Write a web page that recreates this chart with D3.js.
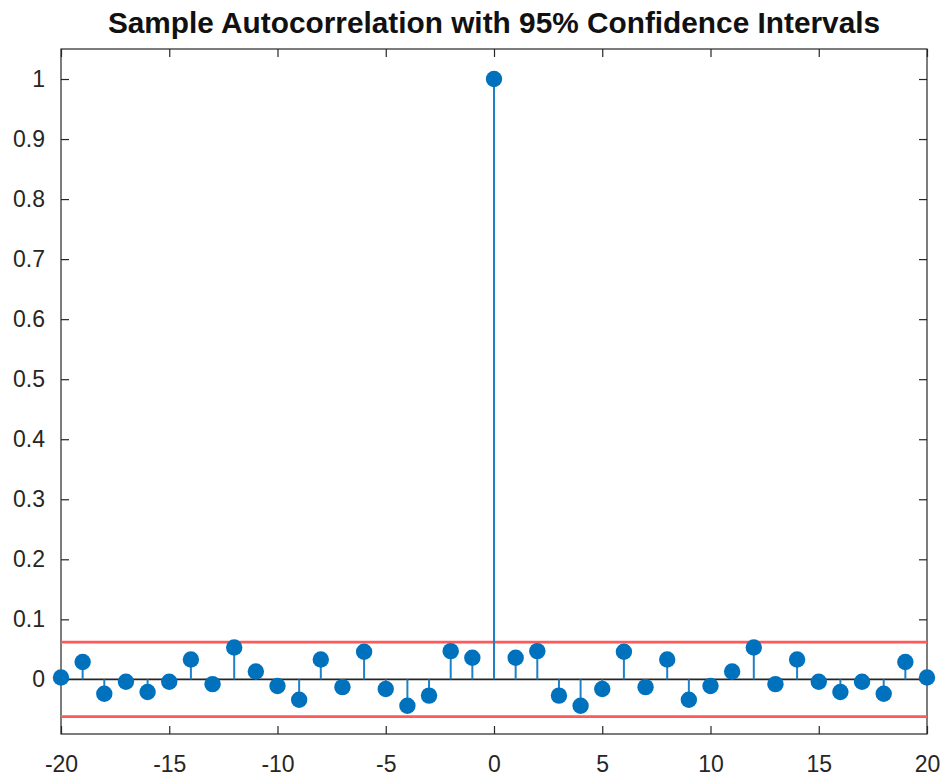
<!DOCTYPE html>
<html>
<head>
<meta charset="utf-8">
<script src="https://cdn.jsdelivr.net/npm/d3@7"></script>
<style>
  html, body { margin: 0; padding: 0; background: #fff; }
  svg { display: block; }
</style>
</head>
<body>
<svg id="chart" width="945" height="777"></svg>
<script>
// Lags shown on the x axis
const lags = [-20, -19, -18, -17, -16, -15, -14, -13, -12, -11, -10, -9, -8, -7, -6, -5, -4, -3, -2, -1,
  0, 1, 2, 3, 4, 5, 6, 7, 8, 9, 10, 11, 12, 13, 14, 15, 16, 17, 18, 19, 20];

// Sample autocorrelation at each lag
const acf = [0.003, 0.029, -0.024, -0.004, -0.021, -0.004, 0.033, -0.008, 0.053, 0.013, -0.011, -0.034, 0.033, -0.013, 0.046, -0.016, -0.044, -0.027, 0.047, 0.036,
  1.000, 0.036, 0.047, -0.027, -0.044, -0.016, 0.046, -0.013, 0.033, -0.034, -0.011, 0.013, 0.053, -0.008, 0.033, -0.004, -0.021, -0.004, -0.024, 0.029, 0.003];

// 95% confidence bounds
const confBounds = [0.062, -0.062];

// Tick values
const xTicks = [-20, -15, -10, -5, 0, 5, 10, 15, 20];
const yTicks = [0, 0.1, 0.2, 0.3, 0.4, 0.5, 0.6, 0.7, 0.8, 0.9, 1];

const titleText = "Sample Autocorrelation with 95% Confidence Intervals";

const svg = d3.select("#chart");
const plot = { left: 61, right: 927, top: 49, bottom: 734 };
const axisColor = "#262626";
const font = "'Liberation Sans', Arial, Helvetica, sans-serif";

const x = d3.scaleLinear().domain([-20, 20]).range([plot.left, plot.right]);
const y = d3.scaleLinear().domain([-0.091, 1.05]).range([plot.bottom, plot.top]);

// Frame box
svg.append("rect")
  .attr("x", plot.left).attr("y", plot.top)
  .attr("width", plot.right - plot.left).attr("height", plot.bottom - plot.top)
  .attr("fill", "none").attr("stroke", axisColor).attr("stroke-width", 1.2);

// Axes with inward ticks; labels use a plain hyphen for negatives
const tickLen = 8;
const fmtX = d => String(d);
const fmtY = d => String(+d.toFixed(1));

const gBottom = svg.append("g").attr("transform", `translate(0,${plot.bottom})`)
  .call(d3.axisBottom(x).tickValues(xTicks).tickSizeInner(-tickLen).tickSizeOuter(0).tickPadding(22).tickFormat(fmtX));
const gTop = svg.append("g").attr("transform", `translate(0,${plot.top})`)
  .call(d3.axisTop(x).tickValues(xTicks).tickSizeInner(-tickLen).tickSizeOuter(0).tickFormat(""));
const gLeft = svg.append("g").attr("transform", `translate(${plot.left},0)`)
  .call(d3.axisLeft(y).tickValues(yTicks).tickSizeInner(-tickLen).tickSizeOuter(0).tickPadding(16).tickFormat(fmtY));
const gRight = svg.append("g").attr("transform", `translate(${plot.right},0)`)
  .call(d3.axisRight(y).tickValues(yTicks).tickSizeInner(-tickLen).tickSizeOuter(0).tickFormat(""));

[gBottom, gTop, gLeft, gRight].forEach(g => {
  g.select(".domain").remove();
  g.selectAll(".tick line").attr("stroke", axisColor).attr("stroke-width", 1.2);
  g.selectAll(".tick text")
    .attr("fill", axisColor)
    .style("font-family", font)
    .style("font-size", "23px");
});

// Confidence bound lines
svg.append("g").selectAll("line.bound")
  .data(confBounds)
  .join("line")
  .attr("class", "bound")
  .attr("x1", x(-20)).attr("x2", x(20))
  .attr("y1", d => y(d)).attr("y2", d => y(d))
  .attr("stroke", "#ff5a5a").attr("stroke-width", 2.6);

// Zero reference line
svg.append("line")
  .attr("x1", x(-20)).attr("x2", x(20))
  .attr("y1", y(0)).attr("y2", y(0))
  .attr("stroke", "#262626").attr("stroke-width", 1.6);

const points = lags.map((l, i) => ({ lag: l, value: acf[i] }));

// Stems
svg.append("g").selectAll("line.stem")
  .data(points)
  .join("line")
  .attr("class", "stem")
  .attr("x1", d => x(d.lag)).attr("x2", d => x(d.lag))
  .attr("y1", y(0)).attr("y2", d => y(d.value))
  .attr("stroke", "#1f80c8").attr("stroke-width", 2);

// Markers
svg.append("g").selectAll("circle")
  .data(points)
  .join("circle")
  .attr("cx", d => x(d.lag))
  .attr("cy", d => y(d.value))
  .attr("r", 8.2)
  .attr("fill", "#0072BD");

// Title
svg.append("text")
  .attr("x", (plot.left + plot.right) / 2)
  .attr("y", 33)
  .attr("text-anchor", "middle")
  .attr("fill", "#111")
  .style("font-family", font)
  .style("font-weight", "bold")
  .style("font-size", "29.8px")
  .text(titleText);
</script>
</body>
</html>
